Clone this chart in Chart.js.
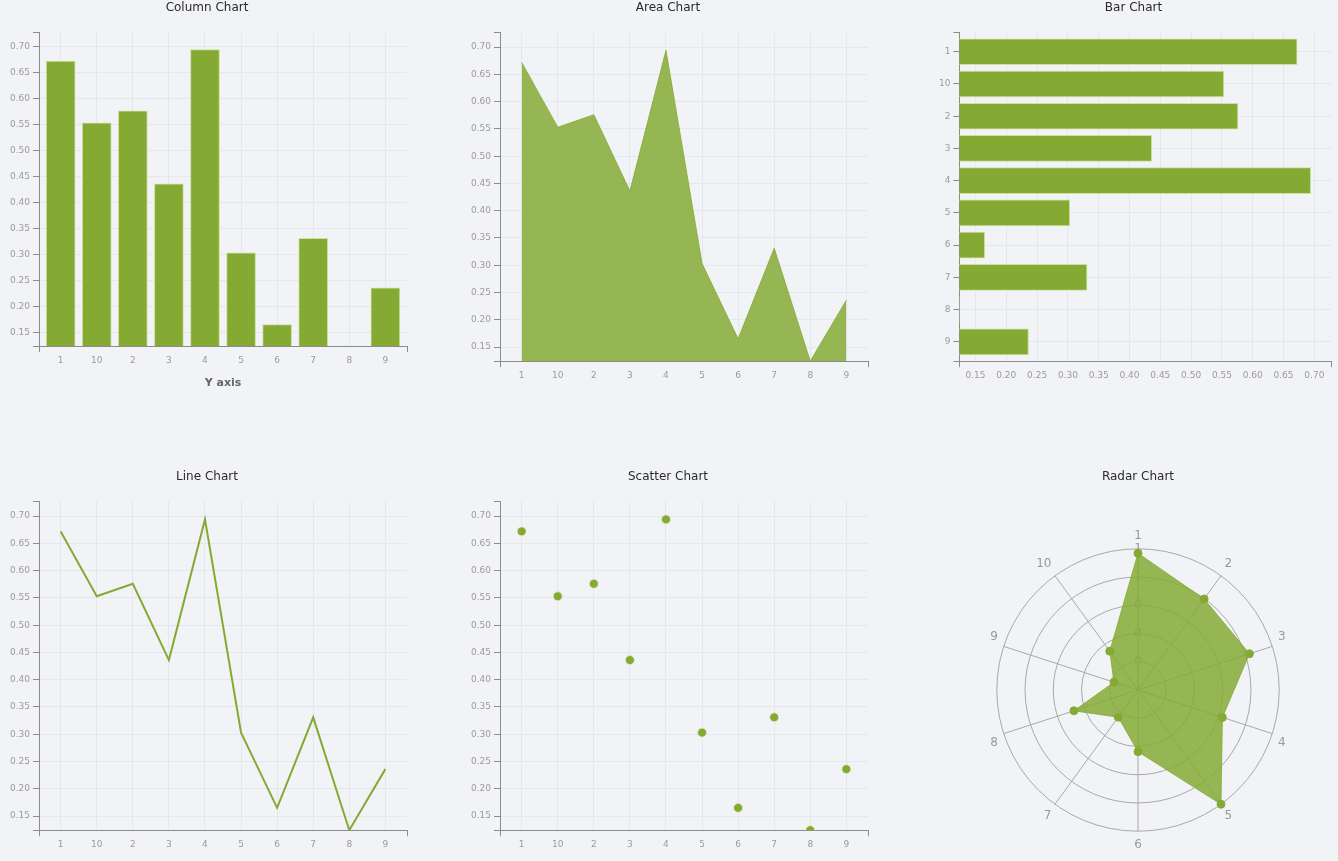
<!DOCTYPE html>
<html>
<head>
<meta charset="utf-8">
<script src="https://cdn.jsdelivr.net/npm/chart.js@4.4.1/dist/chart.umd.min.js"></script>
<style>
  html, body { margin: 0; padding: 0; background: #f2f3f7; overflow: hidden; }
  .grid {
    display: grid;
    grid-template-columns: 432px 432px 432px;
    grid-template-rows: 392px 392px;
    column-gap: 29px;
    row-gap: 77px;
    width: 1354px;
  }
  .cell { position: relative; width: 432px; height: 392px; }
</style>
</head>
<body>
<div class="grid">
  <div class="cell"><canvas id="column"></canvas></div>
  <div class="cell"><canvas id="area"></canvas></div>
  <div class="cell"><canvas id="bar"></canvas></div>
  <div class="cell"><canvas id="line"></canvas></div>
  <div class="cell"><canvas id="scatter"></canvas></div>
  <div class="cell"><canvas id="radar"></canvas></div>
</div>
<script>
// data
const categories = ["1", "10", "2", "3", "4", "5", "6", "7", "8", "9"];
const values = [0.672, 0.553, 0.576, 0.436, 0.694, 0.303, 0.165, 0.331, 0.124, 0.236];
const valueTicks = [0.15, 0.2, 0.25, 0.3, 0.35, 0.4, 0.45, 0.5, 0.55, 0.6, 0.65, 0.7];
const valueMin = 0.124;
const valueMax = 0.727;
const radarLabels = ["1", "2", "3", "4", "5", "6", "7", "8", "9", "10"];
const radarTicks = [0, 0.1388, 0.2776, 0.4164, 0.5552, 0.694];

const GREEN = "#84aa33";
const AREA_FILL = "rgba(132,170,51,0.84)";
const BAR_EDGE = "rgba(200,222,150,0.9)";
const AXIS = "#8c8c8c";
const GRID = "#e6e7ec";
const TICK_TEXT = "#9c9a98";

Chart.defaults.font.family = "'DejaVu Sans', Verdana, sans-serif";
Chart.defaults.font.size = 9;
Chart.defaults.color = TICK_TEXT;
Chart.defaults.animation = false;
Chart.defaults.maintainAspectRatio = false;
Chart.defaults.plugins.legend.display = false;
Chart.defaults.plugins.tooltip.enabled = false;

const points = categories.map((c, i) => ({ x: i, y: values[i] }));
const isEnd = (ctx) => ctx.index === 0 || ctx.index === ctx.scale.ticks.length - 1;
const CLEAR = "rgba(0,0,0,0)";

function title(text) {
  return {
    display: true,
    text: text,
    color: "#2a2a2a",
    font: { size: 12, weight: "normal" },
    padding: { top: 1, bottom: 17 },
  };
}

// value axis (0.15 .. 0.70); the left axis marks every tick, the bottom one only its ends
function valueAxis(vertical) {
  return {
    type: "linear",
    offset: false,
    min: valueMin,
    max: valueMax,
    afterBuildTicks: (s) => {
      s.ticks = [valueMin, ...valueTicks, valueMax].map((v) => ({ value: v }));
    },
    ticks: {
      autoSkip: false,
      maxRotation: 0,
      padding: 3,
      callback: (v, i, t) => (i === 0 || i === t.length - 1 ? "" : v.toFixed(2)),
    },
    grid: {
      offset: false,
      color: (ctx) => (isEnd(ctx) ? CLEAR : GRID),
      tickColor: (ctx) => (vertical || isEnd(ctx) ? AXIS : CLEAR),
      tickLength: 6,
    },
    border: { color: AXIS, width: 1 },
  };
}

// categories on a linear axis so the padding at both ends matches
function categoryAxis(vertical) {
  return {
    type: "linear",
    offset: false,
    min: -0.6,
    max: 9.6,
    reverse: vertical,
    afterBuildTicks: (s) => {
      s.ticks = [-0.6, ...categories.map((c, i) => i), 9.6].map((v) => ({ value: v }));
    },
    ticks: {
      autoSkip: false,
      maxRotation: 0,
      padding: 3,
      callback: (v, i, t) => (i === 0 || i === t.length - 1 ? "" : categories[i - 1]),
    },
    grid: {
      offset: false,
      color: (ctx) => (isEnd(ctx) ? CLEAR : GRID),
      tickColor: (ctx) => (vertical || isEnd(ctx) ? AXIS : CLEAR),
      tickLength: 6,
    },
    border: { color: AXIS, width: 1 },
  };
}

const sidePad = { left: 7, right: 25, top: 0, bottom: 8 };

new Chart(document.getElementById("column"), {
  type: "bar",
  data: {
    datasets: [{
      data: points,
      backgroundColor: GREEN,
      borderColor: BAR_EDGE,
      borderWidth: 1,
      borderSkipped: "start",
      barThickness: 29,
    }],
  },
  options: {
    layout: { padding: { left: 7, right: 25, top: 0, bottom: 2 } },
    plugins: { title: title("Column Chart") },
    scales: {
      x: Object.assign(categoryAxis(false), {
        title: {
          display: true,
          text: "Y axis",
          color: "#666",
          font: { size: 11, weight: "bold" },
          padding: { top: 8, bottom: 0 },
        },
      }),
      y: valueAxis(true),
    },
  },
});

new Chart(document.getElementById("area"), {
  type: "line",
  data: {
    datasets: [{
      data: points,
      fill: "start",
      backgroundColor: AREA_FILL,
      borderColor: AREA_FILL,
      borderWidth: 1,
      pointRadius: 0,
      tension: 0,
    }],
  },
  options: {
    layout: { padding: sidePad },
    plugins: { title: title("Area Chart") },
    scales: { x: categoryAxis(false), y: valueAxis(true) },
  },
});

new Chart(document.getElementById("bar"), {
  type: "bar",
  data: {
    datasets: [{
      data: categories.map((c, i) => ({ y: i, x: values[i] })),
      backgroundColor: GREEN,
      borderColor: BAR_EDGE,
      borderWidth: 1,
      borderSkipped: "start",
      barThickness: 26,
    }],
  },
  options: {
    indexAxis: "y",
    layout: { padding: { left: 14, right: 23, top: 0, bottom: 8 } },
    plugins: { title: title("Bar Chart") },
    scales: { x: valueAxis(false), y: categoryAxis(true) },
  },
});

new Chart(document.getElementById("line"), {
  type: "line",
  data: {
    datasets: [{
      data: points,
      borderColor: GREEN,
      borderWidth: 2,
      pointRadius: 0,
      fill: false,
      tension: 0,
    }],
  },
  options: {
    layout: { padding: sidePad },
    plugins: { title: title("Line Chart") },
    scales: { x: categoryAxis(false), y: valueAxis(true) },
  },
});

new Chart(document.getElementById("scatter"), {
  type: "scatter",
  data: {
    datasets: [{
      data: points,
      backgroundColor: GREEN,
      borderColor: "rgba(225,235,200,0.9)",
      borderWidth: 1,
      pointRadius: 4.5,
    }],
  },
  options: {
    layout: { padding: sidePad },
    plugins: { title: title("Scatter Chart") },
    scales: { x: categoryAxis(false), y: valueAxis(true) },
  },
});

const radarTitle = title("Radar Chart");
radarTitle.padding = { top: 1, bottom: 44 };

new Chart(document.getElementById("radar"), {
  type: "radar",
  data: {
    labels: radarLabels,
    datasets: [{
      data: values,
      backgroundColor: AREA_FILL,
      borderColor: AREA_FILL,
      borderWidth: 1,
      pointRadius: 4,
      pointBackgroundColor: GREEN,
      pointBorderColor: GREEN,
      fill: true,
    }],
  },
  options: {
    layout: { padding: { left: 0, right: 0, top: 0, bottom: 9 } },
    plugins: { title: radarTitle },
    scales: {
      r: {
        min: 0,
        max: 0.694,
        afterBuildTicks: (s) => {
          s.ticks = radarTicks.map((v) => ({ value: v }));
        },
        grid: { circular: true, color: "#a8a8a8" },
        angleLines: { color: "#a8a8a8" },
        pointLabels: { color: "#9a9a9a", font: { size: 12 }, padding: -2 },
        ticks: {
          showLabelBackdrop: false,
          color: "#999",
          font: { size: 12 },
          callback: (v) => Math.round(v).toString(),
        },
      },
    },
  },
});
</script>
</body>
</html>
